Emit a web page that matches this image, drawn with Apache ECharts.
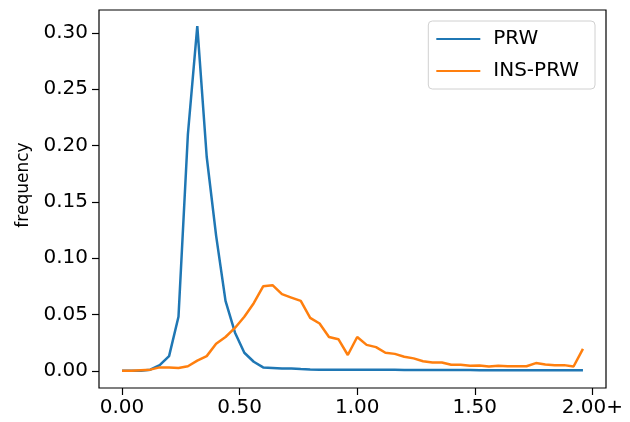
<!DOCTYPE html>
<html>
<head>
<meta charset="utf-8">
<script src="https://cdn.jsdelivr.net/npm/echarts@6/dist/echarts.min.js"></script>
<style>
  html, body { margin: 0; padding: 0; background: #fff; }
  #chart { width: 630px; height: 422px; }
</style>
</head>
<body>
<div id="chart"></div>
<script>
// bin positions (0.04 wide bins, last one collects 2.00+)
const binX = [
  0.00, 0.04, 0.08, 0.12, 0.16, 0.20, 0.24, 0.28, 0.32, 0.36,
  0.40, 0.44, 0.48, 0.52, 0.56, 0.60, 0.64, 0.68, 0.72, 0.76,
  0.80, 0.84, 0.88, 0.92, 0.96, 1.00, 1.04, 1.08, 1.12, 1.16,
  1.20, 1.24, 1.28, 1.32, 1.36, 1.40, 1.44, 1.48, 1.52, 1.56,
  1.60, 1.64, 1.68, 1.72, 1.76, 1.80, 1.84, 1.88, 1.92, 1.96
]
const prw = [
  0.000, 0.000, 0.000, 0.001, 0.005, 0.013, 0.048, 0.210, 0.306, 0.190,
  0.120, 0.062, 0.034, 0.016, 0.008, 0.003, 0.0025, 0.002, 0.002, 0.0015,
  0.0012, 0.001, 0.001, 0.001, 0.001, 0.001, 0.0008, 0.0008, 0.0008, 0.0008,
  0.0007, 0.0007, 0.0007, 0.0007, 0.0006, 0.0006, 0.0006, 0.0006, 0.0005, 0.0005,
  0.0005, 0.0005, 0.0005, 0.0005, 0.0005, 0.0005, 0.0005, 0.0005, 0.0005, 0.0005
]
const insPrw = [
  0.000, 0.000, 0.0005, 0.001, 0.003, 0.003, 0.0025, 0.004, 0.009, 0.013,
  0.024, 0.030, 0.038, 0.048, 0.060, 0.075, 0.076, 0.068, 0.065, 0.062,
  0.047, 0.042, 0.030, 0.028, 0.014, 0.030, 0.023, 0.021, 0.016, 0.015,
  0.0125, 0.011, 0.0085, 0.0074, 0.0074, 0.0053, 0.0053, 0.0045, 0.0047, 0.0038,
  0.0044, 0.004, 0.004, 0.004, 0.0068, 0.0055, 0.005, 0.005, 0.0038, 0.0195
]
const xTickValues = [0, 0.5, 1, 1.5, 2]
const xTickLabels = ['0.00', '0.50', '1.00', '1.50', '2.00+']
const yTickValues = [0, 0.05, 0.10, 0.15, 0.20, 0.25, 0.30]

const font = 'DejaVu Sans'
const ink = '#000'

const chart = echarts.init(document.getElementById('chart'))

const pairs = (ys) => binX.map((x, i) => [x, ys[i]])

chart.setOption({
  animation: false,
  textStyle: { fontFamily: font },
  grid: {
    left: 99, right: 24, top: 10, bottom: 34,
    show: true, borderColor: '#000', borderWidth: 1.2,
    backgroundColor: 'transparent'
  },
  legend: {
    right: 35, top: 21,
    orient: 'vertical',
    icon: 'rect',
    itemWidth: 44, itemHeight: 2,
    itemGap: 12,
    padding: [8, 16, 8, 8],
    borderColor: '#d0d0d0', borderWidth: 1, borderRadius: 4,
    backgroundColor: '#fff',
    textStyle: { fontFamily: font, fontSize: 20, color: ink, padding: [0, 0, 0, 8] },
    data: ['PRW', 'INS-PRW']
  },
  xAxis: {
    type: 'value',
    min: -0.098, max: 2.058,
    splitLine: { show: false },
    axisLine: { show: false, onZero: false },
    axisTick: { show: true, length: 7, lineStyle: { color: '#000', width: 1.2 }, customValues: xTickValues },
    axisLabel: {
      customValues: xTickValues,
      fontFamily: font, fontSize: 20, color: ink, margin: 10,
      formatter: (v) => xTickLabels[xTickValues.indexOf(v)]
    }
  },
  yAxis: {
    type: 'value',
    min: -0.0153, max: 0.3203,
    name: 'frequency',
    nameLocation: 'middle',
    nameRotate: 90,
    nameGap: 66,
    nameTextStyle: { fontFamily: font, fontSize: 17, color: ink, padding: [0, 0, 0, 28] },
    splitLine: { show: false },
    axisLine: { show: false, onZero: false },
    axisTick: { show: true, length: 7, lineStyle: { color: '#000', width: 1.2 }, customValues: yTickValues },
    axisLabel: {
      customValues: yTickValues,
      fontFamily: font, fontSize: 20, color: ink, margin: 11,
      formatter: (v) => v.toFixed(2)
    }
  },
  series: [
    {
      name: 'PRW', type: 'line', data: pairs(prw),
      symbol: 'none', color: '#1f77b4',
      lineStyle: { width: 2.5, color: '#1f77b4' }
    },
    {
      name: 'INS-PRW', type: 'line', data: pairs(insPrw),
      symbol: 'none', color: '#ff7f0e',
      lineStyle: { width: 2.5, color: '#ff7f0e' }
    }
  ]
})
</script>
</body>
</html>
